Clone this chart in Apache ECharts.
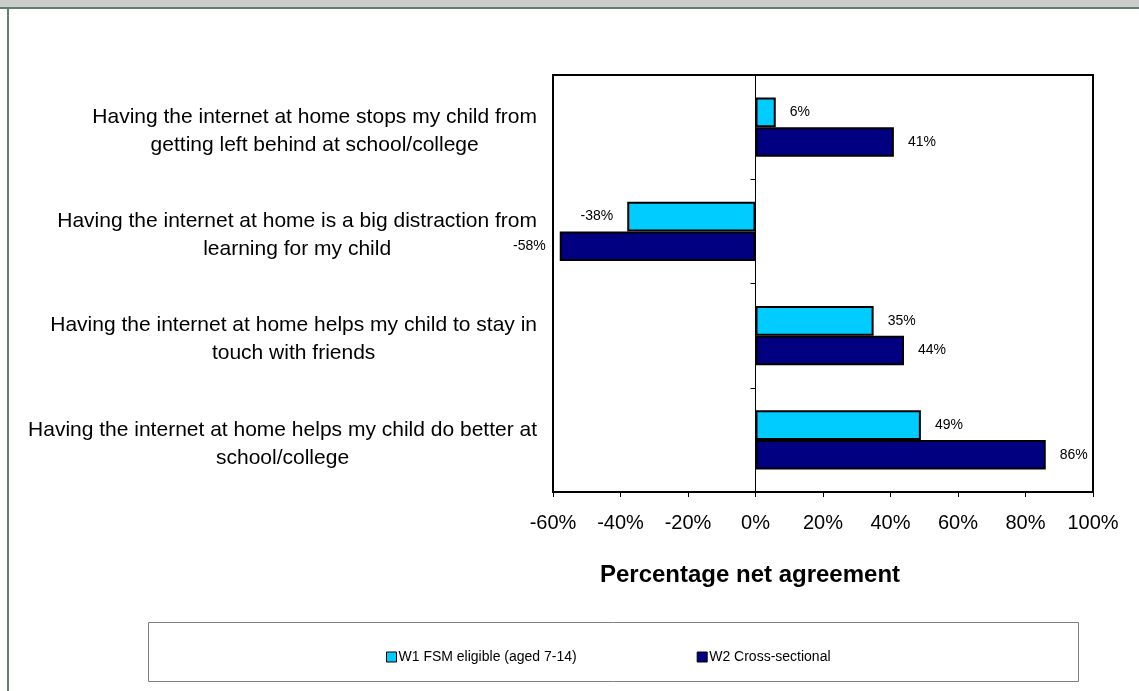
<!DOCTYPE html>
<html>
<head>
<meta charset="utf-8">
<script src="https://cdn.jsdelivr.net/npm/echarts@6/dist/echarts.min.js"></script>
<style>
html,body{margin:0;padding:0;background:#fff;}
#chart{width:1139px;height:691px;}
</style>
</head>
<body>
<div id="chart"></div>
<script>
const categories = [
  "Having the internet at home stops my child from\ngetting left behind at school/college",
  "Having the internet at home is a big distraction from\nlearning for my child",
  "Having the internet at home helps my child to stay in\ntouch with friends",
  "Having the internet at home helps my child do better at\nschool/college"
];
const seriesNames = ["W1 FSM eligible (aged 7-14)", "W2 Cross-sectional"];
const w1Values = [6, -38, 35, 49];
const w2Values = [41, -58, 44, 86];
const xTicks = { min: -60, max: 100, interval: 20 };
const axisTitle = "Percentage net agreement";

const FONT = "'Liberation Sans', Arial, sans-serif";

function toItems(arr) {
  return arr.map(v => ({
    value: v,
    label: { position: v < 0 ? 'left' : 'right' }
  }));
}

const chart = echarts.init(document.getElementById('chart'), null, { renderer: 'canvas' });
chart.setOption({
  backgroundColor: '#ffffff',
  animation: false,
  textStyle: { fontFamily: FONT },
  title: {
    text: axisTitle,
    left: 750,
    top: 563,
    padding: 0,
    textAlign: 'center',
    textStyle: { fontFamily: FONT, fontSize: 24, fontWeight: 'bold', color: '#000' }
  },
  grid: {
    left: 553, top: 75, right: 46, bottom: 199,
    show: true, borderColor: '#000', borderWidth: 2, backgroundColor: '#fff',
    containLabel: false
  },
  legend: {
    data: seriesNames,
    left: 381,
    top: 645,
    itemGap: 120,
    itemWidth: 10,
    itemHeight: 10,
    icon: 'rect',
    itemStyle: { borderColor: '#000', borderWidth: 1 },
    textStyle: { fontFamily: FONT, fontSize: 14, color: '#000', padding: [0, 0, 0, -3] }
  },
  xAxis: {
    type: 'value',
    min: xTicks.min, max: xTicks.max, interval: xTicks.interval,
    axisLine: { show: true, lineStyle: { color: '#000', width: 2 } },
    axisTick: { show: true, length: 5, lineStyle: { color: '#000' } },
    axisLabel: { formatter: '{value}%', fontSize: 20, color: '#000', margin: 21, fontFamily: FONT },
    splitLine: { show: false }
  },
  yAxis: [
    {
      type: 'category',
      data: categories,
      inverse: true,
      axisLine: { show: false, onZero: false },
      axisTick: { show: false },
      axisLabel: {
        margin: 16,
        color: '#000',
        padding: [8, 0, 0, 0],
        formatter: function (v) {
          return v.split('\n').map(l => '{c|' + l + '}').join('\n');
        },
        rich: {
          c: { align: 'center', fontSize: 21, lineHeight: 28, fontFamily: FONT, color: '#000' }
        }
      },
      splitLine: { show: false }
    },
    {
      type: 'category',
      data: categories,
      inverse: true,
      position: 'left',
      axisLine: { show: true, onZero: true, lineStyle: { color: '#000', width: 1 } },
      axisTick: { show: true, length: 5, inside: false, lineStyle: { color: '#000' } },
      axisLabel: { show: false },
      splitLine: { show: false }
    }
  ],
  series: [
    {
      name: seriesNames[0],
      type: 'bar',
      yAxisIndex: 0,
      data: toItems(w1Values),
      barCategoryGap: '43%',
      barGap: '0%',
      itemStyle: { color: '#00CCFF', borderColor: '#000', borderWidth: 2 },
      label: { show: true, formatter: '{c}%', fontSize: 14, color: '#000', distance: 14, fontFamily: FONT }
    },
    {
      name: seriesNames[1],
      type: 'bar',
      yAxisIndex: 0,
      data: toItems(w2Values),
      barCategoryGap: '43%',
      barGap: '0%',
      itemStyle: { color: '#000080', borderColor: '#000', borderWidth: 2 },
      label: { show: true, formatter: '{c}%', fontSize: 14, color: '#000', distance: 14, fontFamily: FONT }
    }
  ],
  graphic: [
    { type: 'rect', shape: { x: 0, y: 0, width: 1139, height: 7 }, style: { fill: '#cccccc' }, z: 100 },
    { type: 'rect', shape: { x: 0, y: 7, width: 1139, height: 2 }, style: { fill: '#5f7f6f' }, z: 100 },
    { type: 'rect', shape: { x: 7, y: 7, width: 2, height: 684 }, style: { fill: '#5f7f6f' }, z: 100 },
    { type: 'rect', shape: { x: 148.5, y: 622.5, width: 930, height: 59 }, style: { fill: 'none', stroke: '#808080', lineWidth: 1 }, z: 1 }
  ]
});
</script>
</body>
</html>
